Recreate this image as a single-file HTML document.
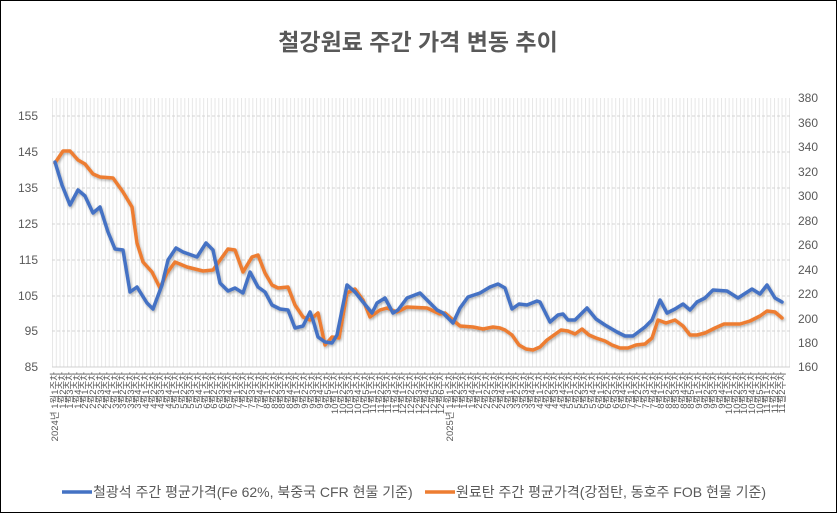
<!DOCTYPE html>
<html><head><meta charset="utf-8"><style>
body{margin:0;background:#fff}
svg{display:block;font-family:"Liberation Sans","Noto Sans CJK KR",sans-serif}
</style></head><body>
<svg width="837" height="513" viewBox="0 0 837 513">
<rect x="0.5" y="0.5" width="836" height="512" fill="#fff" stroke="#000" stroke-width="1"/>
<defs>
<pattern id="vg" x="52" y="0" width="3.78" height="10" patternUnits="userSpaceOnUse">
<line x1="0.5" y1="0" x2="0.5" y2="10" stroke="#e6e6e6" stroke-width="1"/>
</pattern>
<filter id="sh" x="-5%" y="-5%" width="110%" height="110%"><feDropShadow dx="1" dy="1.5" stdDeviation="1.2" flood-color="#000" flood-opacity="0.3"/></filter>
</defs>
<text x="418" y="50" text-anchor="middle" font-size="23" font-weight="bold" fill="#595959">철강원료 주간 가격 변동 추이</text>
<rect x="52" y="98" width="738" height="269" fill="url(#vg)"/>
<g stroke="#d4d4d4" stroke-width="1" stroke-dasharray="3,2">
<line x1="52" y1="116" x2="790" y2="116"/><line x1="52" y1="152" x2="790" y2="152"/>
<line x1="52" y1="188" x2="790" y2="188"/><line x1="52" y1="224" x2="790" y2="224"/>
<line x1="52" y1="260" x2="790" y2="260"/><line x1="52" y1="296" x2="790" y2="296"/>
<line x1="52" y1="331" x2="790" y2="331"/>
</g>
<line x1="52" y1="367" x2="790" y2="367" stroke="#d0d0d0"/>
<g font-size="12" fill="#595959" text-anchor="end">
<text x="38" y="120">155</text><text x="38" y="156">145</text><text x="38" y="192">135</text>
<text x="38" y="228">125</text><text x="38" y="264">115</text><text x="38" y="300">105</text>
<text x="38" y="335">95</text><text x="38" y="371">85</text>
</g>
<g font-size="12" fill="#595959">
<text x="798" y="102">380</text><text x="798" y="127">360</text><text x="798" y="151">340</text>
<text x="798" y="176">320</text><text x="798" y="200">300</text><text x="798" y="225">280</text>
<text x="798" y="249">260</text><text x="798" y="274">240</text><text x="798" y="298">220</text>
<text x="798" y="323">200</text><text x="798" y="347">180</text><text x="798" y="371">160</text>
</g>
<g filter="url(#sh)" fill="none" stroke-width="3.5" stroke-linejoin="round" stroke-linecap="round">
<polyline stroke="#ED7D31" points="55,163 63,151 70,151 78,160 85,164 93,174 100,177 113,178 123,192 132,207 137,243 143,262 152,272 160,288 167,273 175,262 187,267 203,271 213,270 228,249 235,250 243,272 252,257 258,255 265,273 272,285 278,288 288,287 295,305 303,317 310,320 318,313 325,345 332,337 339,338 347,293 355,289 363,300 370,317 380,310 387,308 397,312 407,307 427,308 440,314 445,313 453,320 460,326 473,327 483,329 493,327 500,328 505,330 512,335 519,345 526,349 533,350 540,347 547,340 554,335 561,330 568,331 575,334 582,329 589,335 596,338 605,341 612,345 620,348 628,348 636,345 645,344 652,338 658,320 666,323 675,320 683,326 690,335 697,335 705,333 715,328 724,324 740,324 750,321 760,316 767,311 775,312 782,318"/>
<polyline stroke="#4472C4" points="55,162 62,185 70,205 78,190 85,196 93,213 100,207 108,232 115,249 123,250 130,292 137,287 147,303 153,309 162,285 168,260 176,248 183,252 197,257 206,243 213,250 220,283 228,291 235,288 243,293 250,272 258,287 265,292 272,305 280,309 288,310 295,328 303,326 310,312 313,320 318,337 325,342 332,343 337,335 347,285 355,292 363,302 372,313 377,303 385,298 393,313 398,310 407,298 420,293 427,300 437,310 443,313 453,323 460,308 468,297 480,293 490,287 498,284 505,288 512,309 519,304 527,305 537,301 540,302 550,322 558,315 563,314 568,320 575,320 587,308 596,319 605,325 617,332 625,336 633,336 645,327 652,320 660,300 667,313 675,309 683,304 690,310 697,302 705,298 713,290 727,291 738,298 752,289 760,294 767,285 775,298 782,302"/>
</g>
<g font-size="9.5" fill="#595959" text-anchor="end">
<text transform="translate(58,372) rotate(-90)">2024년 1월1주차</text>
<text transform="translate(453,372) rotate(-90)">2025년 1월1주차</text>
<text transform="translate(66,372) rotate(-90)">1월2주차</text><text transform="translate(73,372) rotate(-90)">1월3주차</text><text transform="translate(81,372) rotate(-90)">1월4주차</text><text transform="translate(88,372) rotate(-90)">2월1주차</text><text transform="translate(96,372) rotate(-90)">2월2주차</text><text transform="translate(104,372) rotate(-90)">2월3주차</text><text transform="translate(111,372) rotate(-90)">2월4주차</text><text transform="translate(119,372) rotate(-90)">3월1주차</text><text transform="translate(126,372) rotate(-90)">3월2주차</text><text transform="translate(134,372) rotate(-90)">3월3주차</text><text transform="translate(141,372) rotate(-90)">3월4주차</text><text transform="translate(149,372) rotate(-90)">4월1주차</text><text transform="translate(157,372) rotate(-90)">4월2주차</text><text transform="translate(164,372) rotate(-90)">4월3주차</text><text transform="translate(172,372) rotate(-90)">4월4주차</text><text transform="translate(179,372) rotate(-90)">5월1주차</text><text transform="translate(187,372) rotate(-90)">5월2주차</text><text transform="translate(194,372) rotate(-90)">5월3주차</text><text transform="translate(202,372) rotate(-90)">5월4주차</text><text transform="translate(210,372) rotate(-90)">6월1주차</text><text transform="translate(217,372) rotate(-90)">6월2주차</text><text transform="translate(225,372) rotate(-90)">6월3주차</text><text transform="translate(232,372) rotate(-90)">6월4주차</text><text transform="translate(240,372) rotate(-90)">7월1주차</text><text transform="translate(247,372) rotate(-90)">7월2주차</text><text transform="translate(255,372) rotate(-90)">7월3주차</text><text transform="translate(263,372) rotate(-90)">7월4주차</text><text transform="translate(270,372) rotate(-90)">8월1주차</text><text transform="translate(278,372) rotate(-90)">8월2주차</text><text transform="translate(285,372) rotate(-90)">8월3주차</text><text transform="translate(293,372) rotate(-90)">8월4주차</text><text transform="translate(300,372) rotate(-90)">9월1주차</text><text transform="translate(308,372) rotate(-90)">9월2주차</text><text transform="translate(316,372) rotate(-90)">9월3주차</text><text transform="translate(323,372) rotate(-90)">9월4주차</text><text transform="translate(331,372) rotate(-90)">9월5주차</text><text transform="translate(338,372) rotate(-90)">10월1주차</text><text transform="translate(346,372) rotate(-90)">10월2주차</text><text transform="translate(353,372) rotate(-90)">10월3주차</text><text transform="translate(361,372) rotate(-90)">10월4주차</text><text transform="translate(369,372) rotate(-90)">10월5주차</text><text transform="translate(376,372) rotate(-90)">11월1주차</text><text transform="translate(384,372) rotate(-90)">11월2주차</text><text transform="translate(391,372) rotate(-90)">11월3주차</text><text transform="translate(399,372) rotate(-90)">11월4주차</text><text transform="translate(406,372) rotate(-90)">12월1주차</text><text transform="translate(414,372) rotate(-90)">12월2주차</text><text transform="translate(422,372) rotate(-90)">12월3주차</text><text transform="translate(429,372) rotate(-90)">12월4주차</text><text transform="translate(437,372) rotate(-90)">12월5주차</text><text transform="translate(444,372) rotate(-90)">12월6주차</text>
<text transform="translate(460,372) rotate(-90)">1월2주차</text><text transform="translate(467,372) rotate(-90)">1월3주차</text><text transform="translate(475,372) rotate(-90)">1월4주차</text><text transform="translate(482,372) rotate(-90)">2월1주차</text><text transform="translate(490,372) rotate(-90)">2월2주차</text><text transform="translate(498,372) rotate(-90)">2월3주차</text><text transform="translate(505,372) rotate(-90)">2월4주차</text><text transform="translate(513,372) rotate(-90)">3월1주차</text><text transform="translate(520,372) rotate(-90)">3월2주차</text><text transform="translate(528,372) rotate(-90)">3월3주차</text><text transform="translate(535,372) rotate(-90)">3월4주차</text><text transform="translate(543,372) rotate(-90)">4월1주차</text><text transform="translate(551,372) rotate(-90)">4월2주차</text><text transform="translate(558,372) rotate(-90)">4월3주차</text><text transform="translate(566,372) rotate(-90)">4월4주차</text><text transform="translate(573,372) rotate(-90)">5월1주차</text><text transform="translate(581,372) rotate(-90)">5월2주차</text><text transform="translate(588,372) rotate(-90)">5월3주차</text><text transform="translate(596,372) rotate(-90)">5월4주차</text><text transform="translate(604,372) rotate(-90)">6월1주차</text><text transform="translate(611,372) rotate(-90)">6월2주차</text><text transform="translate(619,372) rotate(-90)">6월3주차</text><text transform="translate(626,372) rotate(-90)">6월4주차</text><text transform="translate(634,372) rotate(-90)">7월1주차</text><text transform="translate(641,372) rotate(-90)">7월2주차</text><text transform="translate(649,372) rotate(-90)">7월3주차</text><text transform="translate(657,372) rotate(-90)">7월4주차</text><text transform="translate(664,372) rotate(-90)">8월1주차</text><text transform="translate(672,372) rotate(-90)">8월2주차</text><text transform="translate(679,372) rotate(-90)">8월3주차</text><text transform="translate(687,372) rotate(-90)">8월4주차</text><text transform="translate(694,372) rotate(-90)">8월5주차</text><text transform="translate(702,372) rotate(-90)">9월1주차</text><text transform="translate(710,372) rotate(-90)">9월2주차</text><text transform="translate(717,372) rotate(-90)">9월3주차</text><text transform="translate(725,372) rotate(-90)">9월4주차</text><text transform="translate(732,372) rotate(-90)">10월1주차</text><text transform="translate(740,372) rotate(-90)">10월2주차</text><text transform="translate(747,372) rotate(-90)">10월3주차</text><text transform="translate(755,372) rotate(-90)">10월4주차</text><text transform="translate(763,372) rotate(-90)">10월5주차</text><text transform="translate(770,372) rotate(-90)">11월1주차</text><text transform="translate(778,372) rotate(-90)">11월2주차</text><text transform="translate(785,372) rotate(-90)">11월2주차</text>
</g>
<line x1="62" y1="492" x2="92" y2="492" stroke="#4472C4" stroke-width="3.5"/>
<text x="93" y="497" font-size="14" fill="#595959">철광석 주간 평균가격(Fe 62%, 북중국 CFR 현물 기준)</text>
<line x1="425" y1="492" x2="455" y2="492" stroke="#ED7D31" stroke-width="3.5"/>
<text x="456" y="497" font-size="14" fill="#595959">원료탄 주간 평균가격(강점탄, 동호주 FOB 현물 기준)</text>
</svg>
</body></html>
